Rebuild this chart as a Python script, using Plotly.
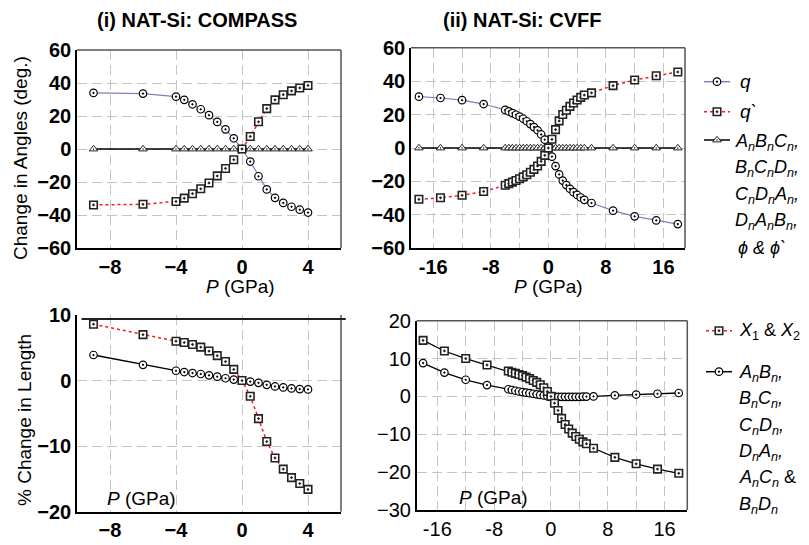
import plotly.graph_objects as go

# ---------------- data ----------------
# (i) NAT-Si: COMPASS
P_compass = [-9, -6, -4, -3.5, -3, -2.5, -2, -1.5, -1, -0.5, 0, 0.5, 1, 1.5, 2, 2.5, 3, 3.5, 4]
theta_compass = [34.0, 33.6, 31.7, 29.8, 27.1, 24.1, 20.5, 16.4, 11.9, 6.5, 0, -7.6, -16.5, -24.5,
                 -29.6, -32.7, -35.0, -36.8, -38.5]
thetap_compass = [-33.9, -33.5, -31.8, -29.8, -27.1, -24.1, -20.6, -16.3, -11.8, -6.5, 0, 7.6, 16.5,
                  24.5, 29.8, 32.9, 35.2, 37.0, 38.5]
angles_compass = [0] * len(P_compass)
X12_compass = [8.6, 7.0, 6.0, 5.8, 5.5, 5.1, 4.5, 3.8, 2.9, 1.7, 0, -2.4, -5.8, -9.3, -11.8, -13.5,
               -14.8, -15.7, -16.6]
bonds_compass = [3.9, 2.4, 1.5, 1.3, 1.15, 1.0, 0.8, 0.6, 0.35, 0.15, 0, -0.15, -0.35, -0.65, -0.9,
                 -1.05, -1.2, -1.3, -1.35]

# (ii) NAT-Si: CVFF
P_cvff = [-18, -15, -12, -9, -6, -5.5, -5, -4.5, -4, -3.5, -3, -2.5, -2, -1.5, -1, -0.5, 0,
          0.5, 1, 1.5, 2, 2.5, 3, 3.5, 4, 4.5, 5, 6, 9, 12, 15, 18]
theta_cvff = [30.7, 29.9, 28.6, 26.3, 22.8, 21.9, 20.9, 19.9, 18.8, 17.5, 16.0, 14.3, 12.5, 10.6, 8.1,
              5.0, 0, -5.2, -10.8, -15.8, -19.5, -22.2, -24.4, -26.4, -28.1, -29.6, -31.0, -32.9,
              -37.5, -40.9, -43.3, -45.5]
thetap_cvff = [-30.7, -29.8, -28.3, -26.0, -22.3, -21.3, -20.4, -19.4, -18.4, -17.3, -16.0, -14.5,
               -12.8, -10.8, -8.0, -4.4, 0, 5.2, 11.0, 16.2, 20.0, 22.6, 24.9, 26.9, 28.7, 30.3, 31.7,
               33.0, 37.3, 40.7, 43.2, 45.5]
angles_cvff = [0] * len(P_cvff)
X12_cvff = [14.8, 12.0, 10.0, 8.3, 6.7, 6.4, 6.1, 5.8, 5.5, 5.1, 4.7, 4.2, 3.7, 3.1, 2.3, 1.3, 0,
            -1.8, -3.7, -5.8, -7.4, -8.6, -9.7, -10.6, -11.3, -12.0, -12.5, -13.7, -16.1, -17.8,
            -19.2, -20.3]
bonds_cvff = [8.8, 6.3, 4.4, 3.0, 1.9, 1.7, 1.5, 1.3, 1.15, 1.0, 0.85, 0.7, 0.55, 0.4, 0.25, 0.1, 0,
              -0.05, -0.1, -0.1, -0.1, -0.1, -0.1, -0.1, -0.1, -0.05, -0.05, 0.0, 0.3, 0.5, 0.7, 0.9]

# tick labels
x_ticks_compass = [-8, -4, 0, 4]
x_ticks_cvff = [-16, -12, -8, -4, 0, 4, 8, 12, 16]
x_ticktext_cvff = ["-16", " ", "-8", " ", "0", " ", "8", " ", "16"]
y_ticks_angles = [-60, -40, -20, 0, 20, 40, 60]
y_ticks_len_compass = [-20, -10, 0, 10]
y_ticks_len_cvff = [-30, -20, -10, 0, 10, 20]

# ---------------- figure ----------------
W, H = 809, 545
OFF = 8  # page body margin offset
FONT = "Liberation Sans, Arial, sans-serif"
BLUE = "#7f7fc4"
RED = "#ff1a1a"
GRID = "#c4c4c4"
FRAME = "#555555"
LEG_X0 = 695  # left pixel of the legend strip


def px(xp):
    return (xp - OFF) / W


def py(yp):
    return 1 - (yp - OFF) / H


MS = 7.5


def circ(size=MS):
    return dict(symbol="circle-dot", size=size, color="white", line=dict(color="black", width=1.2))


def sq(size=MS):
    return dict(symbol="square-dot", size=size, color="white", line=dict(color="#222", width=1.6))


def tri(size=MS):
    return dict(symbol="triangle-up-dot", size=size, color="white", line=dict(color="#222", width=1))


fig = go.Figure()

# Top-left
fig.add_trace(go.Scatter(x=P_compass, y=angles_compass, mode="lines+markers", xaxis="x", yaxis="y",
                         line=dict(color="black", width=1.3), marker=tri()))
fig.add_trace(go.Scatter(x=P_compass, y=theta_compass, mode="lines+markers", xaxis="x", yaxis="y",
                         line=dict(color=BLUE, width=1.2), marker=circ()))
fig.add_trace(go.Scatter(x=P_compass, y=thetap_compass, mode="lines+markers", xaxis="x", yaxis="y",
                         line=dict(color=RED, width=1.5, dash="dot"), marker=sq()))
# Top-right
fig.add_trace(go.Scatter(x=P_cvff, y=angles_cvff, mode="lines+markers", xaxis="x2", yaxis="y2",
                         line=dict(color="black", width=1.3), marker=tri()))
fig.add_trace(go.Scatter(x=P_cvff, y=theta_cvff, mode="lines+markers", xaxis="x2", yaxis="y2",
                         line=dict(color=BLUE, width=1.2), marker=circ()))
fig.add_trace(go.Scatter(x=P_cvff, y=thetap_cvff, mode="lines+markers", xaxis="x2", yaxis="y2",
                         line=dict(color=RED, width=1.5, dash="dot"), marker=sq()))
# Bottom-left
fig.add_trace(go.Scatter(x=P_compass, y=bonds_compass, mode="lines+markers", xaxis="x3", yaxis="y3",
                         line=dict(color="black", width=1.3), marker=circ()))
fig.add_trace(go.Scatter(x=P_compass, y=X12_compass, mode="lines+markers", xaxis="x3", yaxis="y3",
                         line=dict(color=RED, width=1.5, dash="dot"), marker=sq()))
# Bottom-right
fig.add_trace(go.Scatter(x=P_cvff, y=bonds_cvff, mode="lines+markers", xaxis="x4", yaxis="y4",
                         line=dict(color="black", width=1.3), marker=circ()))
fig.add_trace(go.Scatter(x=P_cvff, y=X12_cvff, mode="lines+markers", xaxis="x4", yaxis="y4",
                         line=dict(color="black", width=1.3), marker=sq()))

tickfont_b = dict(family=FONT, size=20, color="black", weight="bold")
tickfont_r = dict(family=FONT, size=20, color="black")

common_x = dict(showgrid=True, gridcolor=GRID, gridwidth=1.3, griddash="10px,5px", zeroline=False,
                showline=True, linecolor="black", linewidth=1.5, ticks="")
common_y = dict(showgrid=True, gridcolor=GRID, gridwidth=1.3, griddash="10px,5px", zeroline=False,
                showline=True, linecolor="black", linewidth=1.5, ticks="")

layout = dict(
    width=W, height=H, margin=dict(l=0, r=0, t=0, b=0, autoexpand=False), showlegend=False,
    paper_bgcolor="white", plot_bgcolor="rgba(0,0,0,0)",
    font=dict(family=FONT, color="black"),
    xaxis=dict(common_x, domain=[px(77), px(341)], range=[-10, 6], tickvals=x_ticks_compass,
               tickfont=tickfont_b, anchor="y"),
    yaxis=dict(common_y, domain=[py(248), py(50)], range=[-60, 60], tickvals=y_ticks_angles,
               tickfont=tickfont_b, anchor="x"),
    xaxis2=dict(common_x, domain=[px(411), px(685)], range=[-19.1, 19], tickvals=x_ticks_cvff,
                ticktext=x_ticktext_cvff, tickfont=tickfont_b, anchor="y2"),
    yaxis2=dict(common_y, domain=[py(248.3), py(47.7)], range=[-60, 60], tickvals=y_ticks_angles,
                tickfont=tickfont_b, anchor="x2"),
    xaxis3=dict(common_x, domain=[px(77), px(341)], range=[-10, 6], tickvals=x_ticks_compass,
                tickfont=tickfont_b, anchor="y3"),
    yaxis3=dict(common_y, domain=[py(511.7), py(315)], range=[-20, 10], tickvals=y_ticks_len_compass,
                tickfont=tickfont_b, anchor="x3"),
    xaxis4=dict(common_x, domain=[px(416.7), px(687.3)], range=[-18.9, 19.2], tickvals=x_ticks_cvff,
                ticktext=x_ticktext_cvff, tickfont=tickfont_r, anchor="y4"),
    yaxis4=dict(common_y, domain=[py(510), py(320.7)], range=[-30, 20], tickvals=y_ticks_len_cvff,
                tickfont=tickfont_r, anchor="x4"),
    # invisible pixel-space axes for the legend strip
    xaxis5=dict(domain=[px(LEG_X0), 1], range=[LEG_X0, W + OFF], visible=False, anchor="y5",
                fixedrange=True),
    yaxis5=dict(domain=[0, 1], range=[H + OFF, OFF], visible=False, anchor="x5", fixedrange=True),
)
fig.update_layout(**layout)

# frame lines (top / right)
shapes = []
for xr, yr in [("x", "y"), ("x2", "y2"), ("x4", "y4")]:
    shapes.append(dict(type="line", xref=f"{xr} domain", yref=f"{yr} domain", x0=0, x1=1, y0=1, y1=1,
                       line=dict(color=FRAME, width=1.5)))
for xr, yr in [("x", "y"), ("x2", "y2"), ("x3", "y3"), ("x4", "y4")]:
    shapes.append(dict(type="line", xref=f"{xr} domain", yref=f"{yr} domain", x0=1, x1=1, y0=0, y1=1,
                       line=dict(color=FRAME, width=1.5)))
shapes.append(dict(type="line", xref="x3 domain", yref="y3", x0=0.017, x1=1.018, y0=9.4, y1=9.4,
                   line=dict(color="#222", width=2)))
fig.update_layout(shapes=shapes)

# legend samples (line + marker) in the legend strip
legend_rows = [
    (717, 81.7, BLUE, "solid", circ()),
    (717, 111.7, RED, "dot", sq()),
    (717, 140, "black", "solid", tri()),
    (719, 330.7, RED, "dot", sq()),
    (719, 371.7, "black", "solid", circ()),
]
for cx, cy, col, dash, mk in legend_rows:
    fig.add_trace(go.Scatter(x=[cx - 13, cx + 13], y=[cy, cy], mode="lines", xaxis="x5", yaxis="y5",
                             line=dict(color=col, width=1.5, dash=dash)))
    fig.add_trace(go.Scatter(x=[cx], y=[cy], mode="markers", xaxis="x5", yaxis="y5", marker=mk))

ann = []


def text(x, y, s, size=19, xanchor="center", bold=False, angle=0):
    f = dict(family=FONT, size=size, color="black")
    if bold:
        f["weight"] = "bold"
    ann.append(dict(x=px(x), y=py(y), xref="paper", yref="paper", text=s, showarrow=False,
                    xanchor=xanchor, yanchor="middle", font=f, textangle=angle))


text(197, 20, "(i) NAT-Si: COMPASS", size=20, bold=True)
text(522, 20, "(ii) NAT-Si: CVFF", size=20, bold=True)
text(20, 158, "Change in Angles (deg.)", size=19, angle=-90)
text(24, 420, "% Change in Length", size=19, angle=-90)
text(240, 286, "<i>P</i> (GPa)", size=19)
text(548, 286, "<i>P</i> (GPa)", size=19)
text(141, 498, "<i>P</i> (GPa)", size=19)
text(493, 497, "<i>P</i> (GPa)", size=19)

# legend texts
LF = 18
text(738, 81.7, "<i>q</i>", size=LF + 1, xanchor="left")
text(738, 111.7, "<i>q`</i>", size=LF + 1, xanchor="left")
top_lines = ["<i>A<sub>n</sub>B<sub>n</sub>C<sub>n</sub>,</i>",
             "<i>B<sub>n</sub>C<sub>n</sub>D<sub>n</sub>,</i>",
             "<i>C<sub>n</sub>D<sub>n</sub>A<sub>n</sub>,</i>",
             "<i>D<sub>n</sub>A<sub>n</sub>B<sub>n</sub>,</i>",
             "<i>ϕ & ϕ`</i>"]
for i, s in enumerate(top_lines):
    text(733 if i < 4 else 736, 142 + i * 26.5, s, size=LF, xanchor="left")
text(737, 331, "<i>X</i><sub>1</sub> & <i>X</i><sub>2</sub>", size=LF, xanchor="left")
bot_lines = ["<i>A<sub>n</sub>B<sub>n</sub>,</i>",
             "<i>B<sub>n</sub>C<sub>n</sub>,</i>",
             "<i>C<sub>n</sub>D<sub>n</sub>,</i>",
             "<i>D<sub>n</sub>A<sub>n</sub>,</i>",
             "<i>A<sub>n</sub>C<sub>n</sub></i> &",
             "<i>B<sub>n</sub>D<sub>n</sub></i>"]
for i, s in enumerate(bot_lines):
    text(737, 373.5 + i * 26.3, s, size=LF, xanchor="left")

fig.update_layout(annotations=ann)
fig.write_html("out.html")
